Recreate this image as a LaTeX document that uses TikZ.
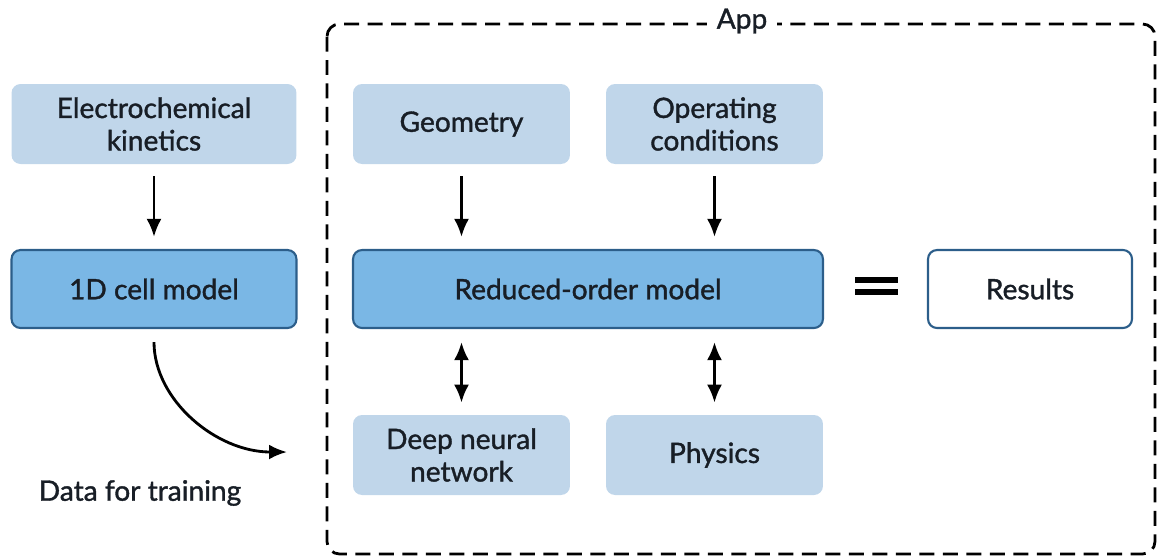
\documentclass[tikz,border=0pt]{standalone}
\usepackage{fontspec}
\setmainfont{Lato}[FakeBold=1.3, AutoFakeBold=1.3]
\usepackage{tikz}
\usetikzlibrary{arrows.meta}
\definecolor{light-blue}{RGB}{192,214,234}
\definecolor{mid-blue}{RGB}{122,183,229}
\definecolor{edge-blue}{RGB}{44,94,138}
\definecolor{text-gray}{RGB}{24,30,38}

\newcommand{\boxfont}{\fontsize{16}{18.5}\selectfont\bfseries}

\tikzset{
	lightbox/.style={fill=light-blue, rounded corners=0.18cm, align=center, minimum width=4.34cm, minimum height=1.6cm, text=text-gray, font=\boxfont},
	darkbox/.style={fill=mid-blue, draw=edge-blue, line width=1.2pt, rounded corners=0.18cm, align=center, minimum height=1.56cm, text=text-gray, font=\boxfont},
	tip/.tip={Latex[length=0.36cm,width=0.3cm]},
	arr/.style={-tip, line width=1.6pt, shorten >=0.24cm, shorten <=0.24cm},
	dblarr/.style={tip-tip, line width=1.6pt, shorten >=0.24cm, shorten <=0.26cm}
}

\begin{document}
\begin{tikzpicture}[x=0.02cm, y=-0.02cm]

			\useasboundingbox (0,0) rectangle (1157,556);

			% app frame
			\draw[dashed, dash pattern=on 0.3cm off 0.17cm, line width=1.6pt, rounded corners=0.25cm] (327,24) rectangle (1155,554);
			\node[fill=white, inner xsep=0.2cm, font=\boxfont, text=text-gray] (app) at (742,21) {App};

			% left column
			\node[lightbox, minimum width=5.7cm] (elec) at (154,124) {Electrochemical\\kinetics};
			\node[darkbox, minimum width=5.7cm] (cell) at (154,289) {1D cell model};
			\node[font=\boxfont, text=text-gray] (data) at (140,493) {Data for training};
			\coordinate (train) at (287,452);

			% app contents
			\node[lightbox] (geom) at (461.5,124) {Geometry};
			\node[lightbox] (oper) at (714.5,124) {Operating\\conditions};
			\node[darkbox, minimum width=9.4cm] (rom) at (588,289) {Reduced-order model};
			\node[lightbox] (dnn) at (461.5,455) {Deep neural\\network};
			\node[lightbox] (phys) at (714.5,455) {Physics};

			\node[darkbox, fill=white, minimum width=4.08cm] (res) at (1030,289) {Results};

			% equals
			\fill[black] (855,277) rectangle (898,283);
			\fill[black] (855,289) rectangle (898,295);

			\draw[arr] (elec) -- (cell);
			\draw[arr] (geom) -- (geom |- rom.north);
			\draw[arr] (oper) -- (oper |- rom.north);
			\draw[dblarr] (dnn |- rom.south) -- (dnn);
			\draw[dblarr] (phys |- rom.south) -- (phys);
			\draw[-tip, line width=1.6pt, shorten <=0.26cm] (cell.south) to[out=-90, in=180] (train);

		\end{tikzpicture}
\end{document}
